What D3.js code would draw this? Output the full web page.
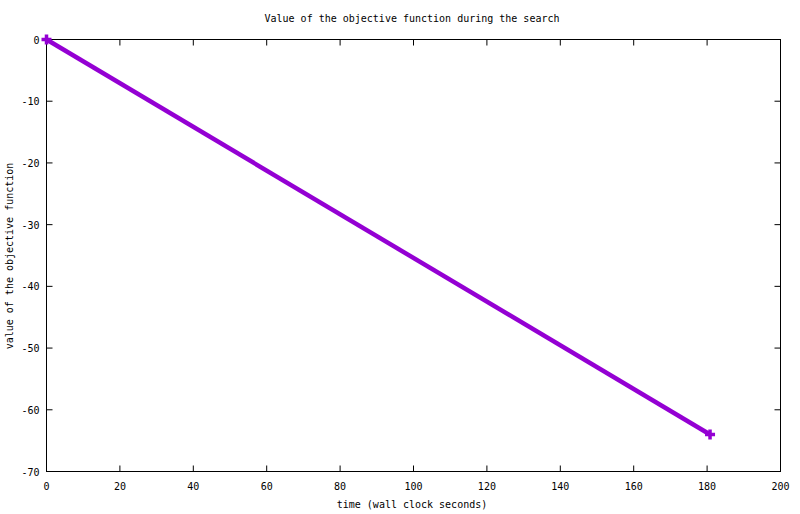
<!DOCTYPE html>
<html>
<head>
<meta charset="utf-8">
<script src="https://cdn.jsdelivr.net/npm/d3@7"></script>
<style>
  body { margin: 0; background: #fff; }
  text { font-family: "DejaVu Sans Mono", monospace; font-size: 10px; fill: #000; }
</style>
</head>
<body>
<div class="chart"></div>
<script>
// data
var times = [0, 180.8];
var values = [0, -64];
var xTicks = [0, 20, 40, 60, 80, 100, 120, 140, 160, 180, 200];
var yTicks = [0, -10, -20, -30, -40, -50, -60, -70];

var width = 800, height = 514;
var pLeft = 46.5, pRight = 780.5, pTop = 39.5, pBottom = 471.5;

var svg = d3.select(".chart").append("svg")
  .attr("width", width).attr("height", height);

var x = d3.scaleLinear().domain([0, 200]).range([pLeft, pRight]);
var y = d3.scaleLinear().domain([-70, 0]).range([pBottom, pTop]);

// frame
svg.append("rect")
  .attr("x", pLeft).attr("y", pTop)
  .attr("width", pRight - pLeft).attr("height", pBottom - pTop)
  .attr("fill", "none").attr("stroke", "#000").attr("stroke-width", 1);

// ticks, gnuplot style: inward and mirrored
var tl = 6;
xTicks.forEach(function (t) {
  svg.append("line").attr("x1", x(t)).attr("x2", x(t)).attr("y1", pBottom).attr("y2", pBottom - tl).attr("stroke", "#000");
  svg.append("line").attr("x1", x(t)).attr("x2", x(t)).attr("y1", pTop).attr("y2", pTop + tl).attr("stroke", "#000");
  svg.append("text").attr("x", x(t)).attr("y", pBottom + 18).attr("text-anchor", "middle").text(t);
});
yTicks.forEach(function (t) {
  svg.append("line").attr("x1", pLeft).attr("x2", pLeft + tl).attr("y1", y(t)).attr("y2", y(t)).attr("stroke", "#000");
  svg.append("line").attr("x1", pRight).attr("x2", pRight - tl).attr("y1", y(t)).attr("y2", y(t)).attr("stroke", "#000");
  svg.append("text").attr("x", pLeft - 7).attr("y", y(t) + 4).attr("text-anchor", "end").text(t);
});

// labels
svg.append("text").attr("x", 412).attr("y", 22).attr("text-anchor", "middle")
  .text("Value of the objective function during the search");
svg.append("text").attr("x", 412).attr("y", 508).attr("text-anchor", "middle")
  .text("time (wall clock seconds)");
svg.append("text").attr("transform", "translate(13,256) rotate(-90)").attr("text-anchor", "middle")
  .text("value of the objective function");

// line
var pts = times.map(function (t, i) { return [t, values[i]]; });
svg.append("path")
  .datum(pts)
  .attr("fill", "none")
  .attr("stroke", "#9400d3")
  .attr("stroke-width", 4.5)
  .attr("d", d3.line().x(function (d) { return x(d[0]); }).y(function (d) { return y(d[1]); }));

// point markers (+)
svg.selectAll(".pt").data(pts).enter().append("path")
  .attr("class", "pt")
  .attr("transform", function (d) { return "translate(" + x(d[0]) + "," + y(d[1]) + ")"; })
  .attr("d", "M-5,0H5M0,-5V5")
  .attr("stroke", "#9400d3")
  .attr("stroke-width", 3.5);
</script>
</body>
</html>
